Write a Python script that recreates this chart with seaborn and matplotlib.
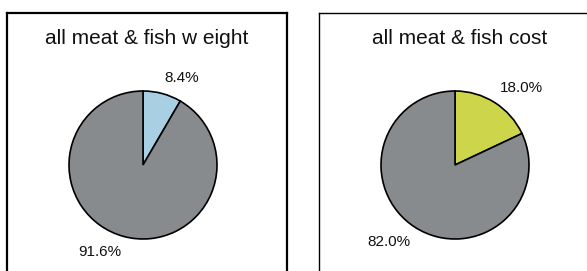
import matplotlib
matplotlib.use("Agg")
import matplotlib.pyplot as plt
import seaborn as sns

# data (percent shares)
titles = ["all meat & fish w eight", "all meat & fish cost"]
weight_share = [8.4, 91.6]
cost_share = [18.0, 82.0]
weight_colors = ["#a8d0e2", "#878b8d"]
cost_colors = ["#cdd64a", "#878b8d"]

sns.set_theme(style="white")
plt.rcParams["font.family"] = ["Liberation Sans", "DejaVu Sans"]

W, H = 587, 271
fig = plt.figure(figsize=(W / 100, H / 100), dpi=100)


def px_box(x0, y0, x1, y1):
    # pixel box (top-left origin) -> figure fraction rect
    return [x0 / W, 1 - y1 / H, (x1 - x0) / W, (y1 - y0) / H]


def draw_panel(frame_px, center_px, radius_px, title, values, colors, lw):
    # frame around the panel
    fr = fig.add_axes(px_box(*frame_px))
    fr.set_xticks([])
    fr.set_yticks([])
    fr.set_facecolor("none")
    for s in fr.spines.values():
        s.set_visible(True)
        s.set_color("black")
        s.set_linewidth(lw)
    x0, y0, x1, y1 = frame_px
    fig.text((x0 + x1) / 2 / W, 1 - 38 / H, title, fontsize=15,
             ha="center", va="center", color="#111111")

    # pie axes, square, centered at pie center
    k = 1.4
    half = radius_px * k
    cx, cy = center_px
    ax = fig.add_axes(px_box(cx - half, cy - half, cx + half, cy + half))
    labels = [f"{v:.1f}%" for v in values]
    wedges, texts = ax.pie(values, colors=colors, startangle=90, counterclock=False,
                           labels=labels, labeldistance=1.12,
                           wedgeprops=dict(edgecolor="black", linewidth=1.2),
                           textprops=dict(fontsize=11, color="#111111"))
    for t in texts:
        x, y = t.get_position()
        t.set_va("bottom" if y > 0 else "top")
    ax.set_xlim(-k, k)
    ax.set_ylim(-k, k)
    ax.set_aspect("equal")
    ax.axis("off")


draw_panel((7, 13, 287, 290), (143, 165), 74, titles[0], weight_share, weight_colors, 1.6)
draw_panel((319, 13, 601, 290), (455, 165), 74, titles[1], cost_share, cost_colors, 1.0)

fig.savefig("out.png", dpi=100)
